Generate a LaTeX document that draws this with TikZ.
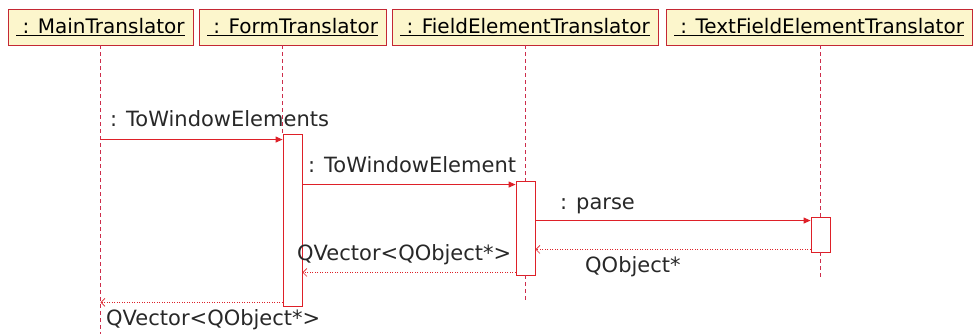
\documentclass[tikz,border=0pt]{standalone}
\usepackage{fontspec}
\setmainfont{DejaVu Sans}
\usetikzlibrary{arrows.meta,calc}
\definecolor{seqred}{RGB}{222,32,40}
\definecolor{lifered}{RGB}{205,45,75}
\definecolor{headfill}{RGB}{252,246,204}
\definecolor{headline}{RGB}{196,40,52}
\definecolor{labelgray}{RGB}{40,40,40}

\begin{document}
\begin{tikzpicture}[
  x=1pt,
  y=-1pt,
  head/.style={draw=headline, fill=headfill, line width=0.9pt, minimum height=36pt, inner sep=0pt, font=\fontsize{20}{24}\selectfont},
  act/.style={draw=seqred, fill=white, line width=0.9pt, minimum width=19pt, inner sep=0pt},
  life/.style={draw=lifered, line width=0.8pt, dash pattern=on 4pt off 3pt},
  call/.style={draw=seqred, line width=0.9pt, -{Triangle[length=7pt,width=6pt]}},
  ret/.style={draw=seqred, line width=0.7pt, dash pattern=on 1pt off 1.5pt, -{Straight Barb[length=4pt,width=8pt]}},
  lbl/.style={anchor=base west, inner sep=0pt, text=labelgray, font=\fontsize{21}{25}\selectfont}
]
  \useasboundingbox (0,0) rectangle (973,334);

  \node[head, minimum width=185pt] (main) at (100.5, 27) {\underline{\ : MainTranslator}};
  \node[head, minimum width=187pt] (form) at (292.5, 27) {\underline{\ : FormTranslator}};
  \node[head, minimum width=266pt] (field) at (525, 27) {\underline{\ : FieldElementTranslator}};
  \node[head, minimum width=306pt] (textfield) at (819, 27) {\underline{\ : TextFieldElementTranslator}};

  \coordinate (mainend) at (100.5, 334);
  \coordinate (fieldend) at (525.5, 300);
  \coordinate (textend) at (820.5, 277);

  \draw[life] (main.south) -- (mainend);

  \node[act, minimum height=172pt] (formact) at (292.5, 220) {};
  \node[act, minimum height=94pt] (fieldact) at (525.5, 228) {};
  \node[act, minimum height=35pt] (textact) at (820.5, 234.5) {};

  \draw[life] (formact.north west |- form.south) -- (formact.north west);
  \draw[life] (fieldact.north |- field.south) -- (fieldact.north);
  \draw[life] (fieldact.south) -- (fieldend);
  \draw[life] (textact.north |- textfield.south) -- (textact.north);
  \draw[life] (textact.south) -- (textend);

  \draw[call] ($(formact.north west -| main.south)+(0,6)$) -- ($(formact.north west)+(0,6)$);
  \node[lbl] at (110, 126.7) {: ToWindowElements};

  \draw[call] ($(fieldact.north west -| formact.east)+(0,4)$) -- ($(fieldact.north west)+(0,4)$);
  \node[lbl] at (308, 172.7) {: ToWindowElement};

  \draw[call] ($(textact.north west -| fieldact.east)+(0,4)$) -- ($(textact.north west)+(0,4)$);
  \node[lbl] at (560, 209) {: parse};

  \draw[ret] ($(textact.south west)+(0,-3)$) -- ($(textact.south west -| fieldact.east)+(0,-3)$);
  \node[lbl] at (585, 272) {QObject*};

  \draw[ret] ($(fieldact.south west)+(0,-3)$) -- ($(fieldact.south west -| formact.east)+(0,-3)$);
  \node[lbl] at (297, 260.7) {QVector<QObject*>};

  \draw[ret] ($(formact.south west)+(0,-4)$) -- ($(formact.south west -| main.south)+(0,-4)$);
  \node[lbl] at (106, 325) {QVector<QObject*>};
\end{tikzpicture}
\end{document}
